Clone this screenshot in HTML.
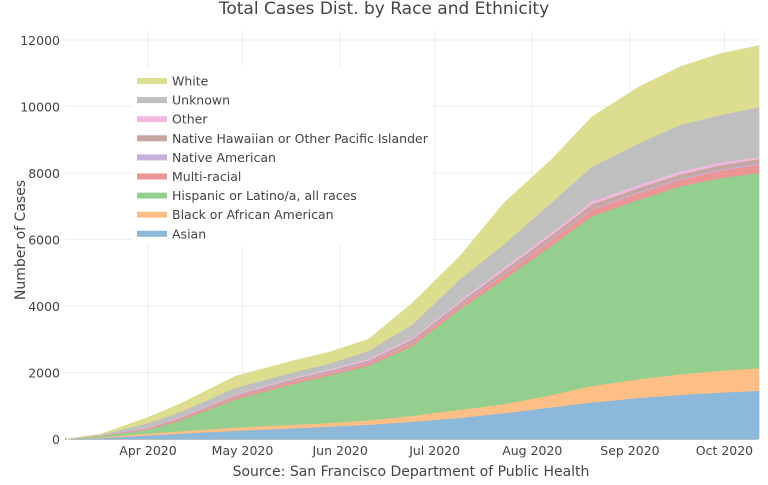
<!DOCTYPE html>
<html><head><meta charset="utf-8"><style>
body{margin:0;background:#fff;font-family:"Liberation Sans","DejaVu Sans",sans-serif;}
svg text{font-family:"DejaVu Sans","Liberation Sans",sans-serif;fill:#444;}
</style></head><body>
<svg id="chart" width="768" height="480" xmlns="http://www.w3.org/2000/svg"></svg>
<script>
// days offset from Apr 1 2020
const days = [-26,-15,0,10,28,48,57,70,84,99,113,128,141,156,169,182,194];
const asian = [0,30,110,160,250,330,370,430,520,640,780,950,1100,1240,1330,1400,1450];
const black = [0,20,60,70,100,110,110,130,180,240,270,370,500,560,620,660,680];
const hispanic = [0,40,110,320,850,1260,1420,1640,2100,3020,3750,4480,5100,5400,5650,5790,5870];
const multiracial = [0,10,30,50,70,80,70,80,100,100,150,180,200,200,200,230,250];
const nativeAmerican = [0,2,5,10,15,15,20,20,20,25,25,30,30,35,35,35,40];
const nhpi = [0,8,15,20,45,55,50,60,80,75,105,110,130,125,125,125,130];
const other = [0,5,15,20,30,40,40,50,50,60,70,80,90,90,90,80,60];
const unknown = [0,10,135,150,190,160,170,240,400,640,700,900,1050,1250,1400,1430,1505];
const white = [0,25,170,250,350,350,350,350,650,700,1250,1300,1500,1700,1750,1850,1845];
const yTicks = [0,2000,4000,6000,8000,10000,12000];
const monthLabels = ["Apr 2020","May 2020","Jun 2020","Jul 2020","Aug 2020","Sep 2020","Oct 2020"];
const monthDays = [0,30,61,91,122,153,183];

const svg = document.getElementById('chart');
const NS = 'http://www.w3.org/2000/svg';
const X0=65, X1=758;
const xS = d => 148 + d*3.15;
const yS = v => 439 - v*0.03325;
function mk(tag, attrs, parent){const e=document.createElementNS(NS,tag);for(const k in attrs)e.setAttribute(k,attrs[k]);(parent||svg).appendChild(e);return e;}

// grid
yTicks.forEach(t=>{
  const g=mk('line',{x1:X0,x2:X1,y1:yS(t),y2:yS(t),stroke:t===0?'#444':'#eee','stroke-width':t===0?1:1});
  
  
  const tx=mk('text',{x:60,y:yS(t)+5,'text-anchor':'end','font-size':'12.5'});
  tx.textContent=t;
  
  
});
monthDays.forEach((d,i)=>{
  const g=mk('line',{x1:xS(d),x2:xS(d),y1:30,y2:439,stroke:'#eee'});
  
  
  const tx=mk('text',{x:xS(d),y:455,'text-anchor':'middle','font-size':'12.5'});
  tx.textContent=monthLabels[i];
  
  
});

const series=[
 ['Asian',asian,'#8cb8d9','asian'],
 ['Black or African American',black,'#fdbf85','black'],
 ['Hispanic or Latino/a, all races',hispanic,'#95cf90','hispanic'],
 ['Multi-racial',multiracial,'#ea9596','multi-racial'],
 ['Native American',nativeAmerican,'#c8b0dc','native-american'],
 ['Native Hawaiian or Other Pacific Islander',nhpi,'#c6a6a0','nhpi'],
 ['Other',other,'#f1b9dd','other'],
 ['Unknown',unknown,'#bfbfbf','unknown'],
 ['White',white,'#dcdd8f','white']
];
let base=days.map(()=>0);
series.forEach(s=>{
  const top=base.map((b,i)=>b+s[1][i]);
  let d='M'+days.map((dd,i)=>xS(dd)+','+yS(top[i])).join('L');
  for(let i=days.length-1;i>=0;i--) d+='L'+xS(days[i])+','+yS(base[i]);
  d+='Z';
  const p=mk('path',{d:d,fill:s[2],stroke:s[2],'stroke-width':0.5});
  
  
  base=top;
});

// legend
const lg=mk('g',{});


mk('rect',{x:133,y:67,width:300,height:178,fill:'#fff'},lg);
series.slice().reverse().forEach((s,i)=>{
  const y=81+i*19.1;
  const r=mk('rect',{x:137,y:y-3,width:30,height:6,fill:s[2]},lg);
  
  
  const t=mk('text',{x:172,y:y+4.5,'font-size':'12.5'},lg);
  t.textContent=s[0];
  
  
});

const title=mk('text',{x:384,y:14,'text-anchor':'middle','font-size':'17'});
title.textContent='Total Cases Dist. by Race and Ethnicity';


const yt=mk('text',{x:0,y:0,'text-anchor':'middle','font-size':'14',transform:'translate(25,240) rotate(-90)'});
yt.textContent='Number of Cases';


const xt=mk('text',{x:411,y:476,'text-anchor':'middle','font-size':'14'});
xt.textContent='Source: San Francisco Department of Public Health';


</script>
</body></html>
